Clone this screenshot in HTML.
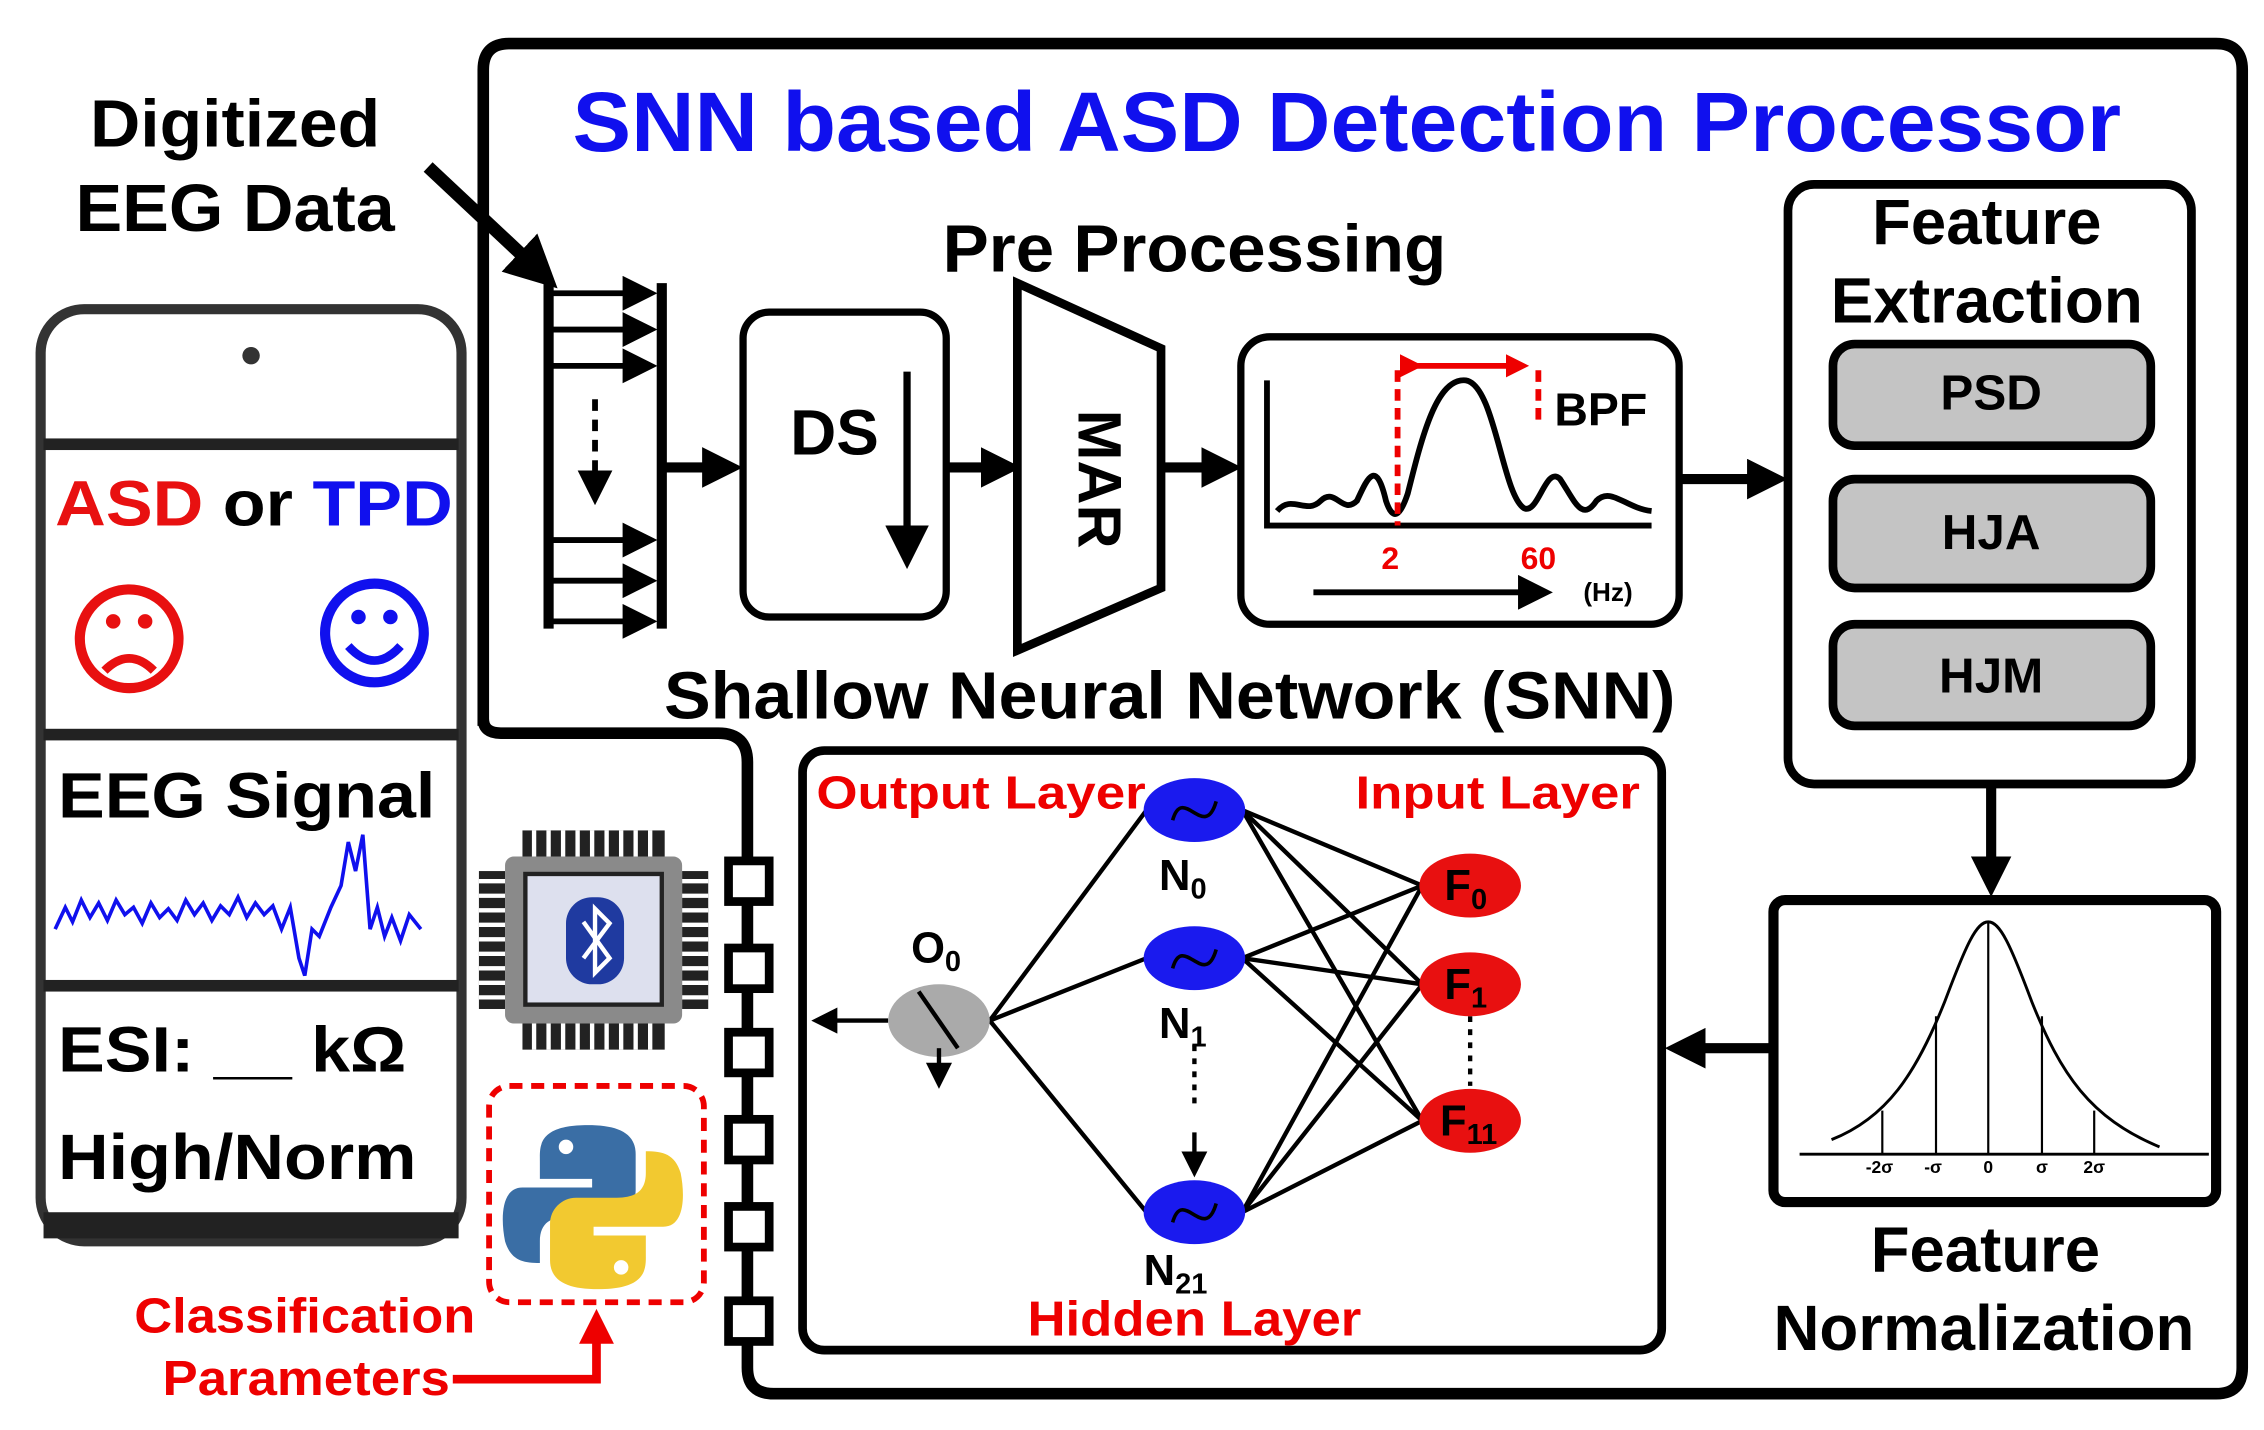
<!DOCTYPE html>
<html><head><meta charset="utf-8"><style>
html,body{margin:0;padding:0;background:#fff;}
svg{display:block;}
text{font-family:"Liberation Sans",Arial,sans-serif;font-weight:bold;}
</style></head><body>
<svg width="2264" height="1430" viewBox="0 0 1560 985" preserveAspectRatio="none" xmlns="http://www.w3.org/2000/svg">
<defs>
<marker id="ah" markerWidth="4" markerHeight="4" refX="2.6" refY="2" orient="auto" markerUnits="strokeWidth"><path d="M0,0 L4,2 L0,4 z" fill="#000"/></marker>
<marker id="ahs" markerWidth="6" markerHeight="6" refX="4" refY="3" orient="auto" markerUnits="strokeWidth"><path d="M0,0 L6,3 L0,6 z" fill="#000"/></marker>
<marker id="ahr" markerWidth="4" markerHeight="4" refX="2.6" refY="2" orient="auto" markerUnits="strokeWidth"><path d="M0,0 L4,2 L0,4 z" fill="#e00"/></marker>
</defs>
<path d="M333,500 L333,48 Q333,30 351,30 L1527,30 Q1545,30 1545,48 L1545,942 Q1545,960 1527,960 L533,960 Q515,960 515,942 L515,525 Q515,505 495,505 L345,505 Q333,505 333,495" fill="none" stroke="#000" stroke-width="8"/>
<text x="928" y="104" font-size="58" fill="#1010ee" text-anchor="middle" textLength="1067" lengthAdjust="spacingAndGlyphs">SNN based ASD Detection Processor</text>
<text x="162" y="101" font-size="46" text-anchor="middle" textLength="200" lengthAdjust="spacingAndGlyphs">Digitized</text>
<text x="162" y="159" font-size="46" text-anchor="middle" textLength="220" lengthAdjust="spacingAndGlyphs">EEG Data</text>
<line x1="295" y1="115" x2="375" y2="190" stroke="#000" stroke-width="9" marker-end="url(#ah)"/>
<line x1="378" y1="195" x2="378" y2="433" stroke="#000" stroke-width="7"/>
<line x1="456" y1="195" x2="456" y2="433" stroke="#000" stroke-width="7"/>
<g stroke="#000" stroke-width="4">
<line x1="378" y1="202" x2="445" y2="202" marker-end="url(#ahs)"/>
<line x1="378" y1="227" x2="445" y2="227" marker-end="url(#ahs)"/>
<line x1="378" y1="252" x2="445" y2="252" marker-end="url(#ahs)"/>
<line x1="378" y1="372" x2="445" y2="372" marker-end="url(#ahs)"/>
<line x1="378" y1="400" x2="445" y2="400" marker-end="url(#ahs)"/>
<line x1="378" y1="428" x2="445" y2="428" marker-end="url(#ahs)"/>
<line x1="410" y1="275" x2="410" y2="340" stroke-dasharray="8,6" marker-end="url(#ahs)"/>
</g>
<g stroke="#000" stroke-width="7">
<line x1="458" y1="322" x2="502" y2="322" marker-end="url(#ah)"/>
<line x1="654" y1="322" x2="694" y2="322" marker-end="url(#ah)"/>
<line x1="802" y1="322" x2="846" y2="322" marker-end="url(#ah)"/>
<line x1="1158" y1="330" x2="1222" y2="330" marker-end="url(#ah)"/>
<line x1="1372" y1="542" x2="1372" y2="608" marker-end="url(#ah)"/>
<line x1="1220" y1="722" x2="1157" y2="722" marker-end="url(#ah)"/>
</g>
<rect x="512" y="215" width="140" height="210" rx="18" fill="#fff" stroke="#000" stroke-width="5"/>
<text x="575" y="313" font-size="44" text-anchor="middle">DS</text>
<line x1="625" y1="256" x2="625" y2="382" stroke="#000" stroke-width="5" marker-end="url(#ahs)"/>
<polygon points="701,195 800,240 800,405 701,448" fill="#fff" stroke="#000" stroke-width="6"/>
<text x="0" y="0" font-size="42" text-anchor="middle" transform="translate(743,330) rotate(90)">MAR</text>
<text x="823" y="187" font-size="46" text-anchor="middle" textLength="347" lengthAdjust="spacingAndGlyphs">Pre Processing</text>
<rect x="855" y="232" width="302" height="198" rx="20" fill="#fff" stroke="#000" stroke-width="5"/>
<polyline points="873,262 873,362 1138,362" fill="none" stroke="#000" stroke-width="4"/>
<path d="M880,352 C890,340 900,355 910,345 C920,335 925,355 935,345 C942,330 948,315 955,345 C960,360 965,355 970,340 C980,300 990,260 1010,262 C1030,265 1035,340 1050,350 C1060,355 1065,320 1075,330 C1085,345 1090,360 1100,345 C1110,335 1120,350 1138,352" fill="none" stroke="#000" stroke-width="4"/>
<line x1="963" y1="255" x2="963" y2="362" stroke="#e00" stroke-width="4" stroke-dasharray="8,5"/>
<line x1="1060" y1="255" x2="1060" y2="290" stroke="#e00" stroke-width="4" stroke-dasharray="8,5"/>
<line x1="975" y1="252" x2="1048" y2="252" stroke="#e00" stroke-width="4" marker-start="url(#ahr)" marker-end="url(#ahr)"/>
<text x="1103" y="293" font-size="32" text-anchor="middle">BPF</text>
<text x="958" y="392" font-size="22" fill="#e00" text-anchor="middle">2</text>
<text x="1060" y="392" font-size="22" fill="#e00" text-anchor="middle">60</text>
<line x1="905" y1="408" x2="1062" y2="408" stroke="#000" stroke-width="4" marker-end="url(#ahs)"/>
<text x="1108" y="414" font-size="18" text-anchor="middle">(Hz)</text>
<rect x="1232" y="127" width="278" height="413" rx="18" fill="#fff" stroke="#000" stroke-width="6"/>
<text x="1369" y="168" font-size="44" text-anchor="middle" textLength="158" lengthAdjust="spacingAndGlyphs">Feature</text>
<text x="1369" y="222" font-size="44" text-anchor="middle" textLength="215" lengthAdjust="spacingAndGlyphs">Extraction</text>
<rect x="1263" y="237" width="219" height="70" rx="15" fill="#c4c4c4" stroke="#000" stroke-width="6"/>
<rect x="1263" y="330" width="219" height="75" rx="15" fill="#c4c4c4" stroke="#000" stroke-width="6"/>
<rect x="1263" y="430" width="219" height="70" rx="15" fill="#c4c4c4" stroke="#000" stroke-width="6"/>
<text x="1372" y="282" font-size="34" text-anchor="middle">PSD</text>
<text x="1372" y="378" font-size="34" text-anchor="middle">HJA</text>
<text x="1372" y="477" font-size="34" text-anchor="middle">HJM</text>
<rect x="1222" y="620" width="305" height="208" rx="8" fill="#fff" stroke="#000" stroke-width="7"/>
<line x1="1240" y1="795" x2="1522" y2="795" stroke="#000" stroke-width="2"/>
<path d="M1262,785 C1300,770 1320,740 1340,690 C1355,650 1362,635 1370,635 C1378,635 1385,650 1400,690 C1420,740 1440,770 1488,790" fill="none" stroke="#000" stroke-width="2"/>
<g stroke="#000" stroke-width="1.5"><line x1="1297" y1="765" x2="1297" y2="795"/><line x1="1334" y1="700" x2="1334" y2="795"/><line x1="1370" y1="635" x2="1370" y2="795"/><line x1="1407" y1="700" x2="1407" y2="795"/><line x1="1443" y1="765" x2="1443" y2="795"/></g>
<g font-size="12" font-weight="normal" text-anchor="middle"><text x="1295" y="808">-2σ</text><text x="1332" y="808">-σ</text><text x="1370" y="808">0</text><text x="1407" y="808">σ</text><text x="1443" y="808">2σ</text></g>
<text x="1368" y="876" font-size="44" text-anchor="middle" textLength="158" lengthAdjust="spacingAndGlyphs">Feature</text>
<text x="1367" y="930" font-size="44" text-anchor="middle" textLength="290" lengthAdjust="spacingAndGlyphs">Normalization</text>
<text x="806" y="495" font-size="46" text-anchor="middle" textLength="697" lengthAdjust="spacingAndGlyphs">Shallow Neural Network (SNN)</text>
<rect x="553" y="517" width="592" height="413" rx="15" fill="#fff" stroke="#000" stroke-width="6"/>
<text x="676" y="557" font-size="32" fill="#e00" text-anchor="middle" textLength="227" lengthAdjust="spacingAndGlyphs">Output Layer</text>
<text x="1032" y="557" font-size="32" fill="#e00" text-anchor="middle" textLength="196" lengthAdjust="spacingAndGlyphs">Input Layer</text>
<text x="823" y="920" font-size="34" fill="#e00" text-anchor="middle" textLength="230" lengthAdjust="spacingAndGlyphs">Hidden Layer</text>
<g stroke="#000" stroke-width="3">
<line x1="682" y1="703" x2="790" y2="558"/><line x1="682" y1="703" x2="790" y2="660"/><line x1="682" y1="703" x2="790" y2="835"/>
<line x1="856" y1="558" x2="980" y2="610"/><line x1="856" y1="558" x2="980" y2="678"/><line x1="856" y1="558" x2="980" y2="772"/>
<line x1="856" y1="660" x2="980" y2="610"/><line x1="856" y1="660" x2="980" y2="678"/><line x1="856" y1="660" x2="980" y2="772"/>
<line x1="856" y1="835" x2="980" y2="610"/><line x1="856" y1="835" x2="980" y2="678"/><line x1="856" y1="835" x2="980" y2="772"/>
<line x1="612" y1="703" x2="565" y2="703" marker-end="url(#ahs)"/>
<line x1="823" y1="720" x2="823" y2="760" stroke-dasharray="4,5"/>
<line x1="823" y1="780" x2="823" y2="805" marker-end="url(#ahs)"/>
<line x1="1013" y1="700" x2="1013" y2="748" stroke-dasharray="4,5"/>
</g>
<ellipse cx="647" cy="703" rx="35" ry="25" fill="#aaa"/>
<line x1="633" y1="683" x2="660" y2="722" stroke="#000" stroke-width="3"/>
<line x1="647" y1="722" x2="647" y2="744" stroke="#000" stroke-width="3" marker-end="url(#ahs)"/>
<text x="645" y="663" font-size="30" text-anchor="middle">O<tspan font-size="20" dy="6">0</tspan></text>
<g fill="#1a1aee"><ellipse cx="823" cy="558" rx="35" ry="22"/><ellipse cx="823" cy="660" rx="35" ry="22"/><ellipse cx="823" cy="835" rx="35" ry="22"/></g>
<g fill="none" stroke="#000" stroke-width="2.5"><path d="M808,565 C815,540 830,580 838,552"/><path d="M808,667 C815,642 830,682 838,654"/><path d="M808,842 C815,817 830,857 838,829"/></g>
<text x="815" y="613" font-size="30" text-anchor="middle">N<tspan font-size="20" dy="6">0</tspan></text>
<text x="815" y="715" font-size="30" text-anchor="middle">N<tspan font-size="20" dy="6">1</tspan></text>
<text x="810" y="885" font-size="30" text-anchor="middle">N<tspan font-size="20" dy="6">21</tspan></text>
<g fill="#e81010"><ellipse cx="1013" cy="610" rx="35" ry="22"/><ellipse cx="1013" cy="678" rx="35" ry="22"/><ellipse cx="1013" cy="772" rx="35" ry="22"/></g>
<text x="1010" y="620" font-size="30" text-anchor="middle">F<tspan font-size="20" dy="6">0</tspan></text>
<text x="1010" y="688" font-size="30" text-anchor="middle">F<tspan font-size="20" dy="6">1</tspan></text>
<text x="1012" y="782" font-size="30" text-anchor="middle">F<tspan font-size="20" dy="6">11</tspan></text>
<g fill="#fff" stroke="#000" stroke-width="6">
<rect x="502" y="593" width="28" height="28"/><rect x="502" y="653" width="28" height="28"/><rect x="502" y="711" width="28" height="28"/><rect x="502" y="771" width="28" height="28"/><rect x="502" y="831" width="28" height="28"/><rect x="502" y="896" width="28" height="28"/>
</g>
<g fill="#222"><rect x="360" y="572" width="98" height="18"/><rect x="360" y="705" width="98" height="18"/><rect x="330" y="600" width="18" height="95"/><rect x="470" y="600" width="18" height="95"/></g>
<g stroke="#fff" stroke-width="3"><path d="M368,572v18M378,572v18M388,572v18M398,572v18M408,572v18M418,572v18M428,572v18M438,572v18M448,572v18M368,705v18M378,705v18M388,705v18M398,705v18M408,705v18M418,705v18M428,705v18M438,705v18M448,705v18M330,607h18M330,617h18M330,627h18M330,637h18M330,647h18M330,657h18M330,667h18M330,677h18M330,687h18M470,607h18M470,617h18M470,627h18M470,637h18M470,647h18M470,657h18M470,667h18M470,677h18M470,687h18"/></g>
<rect x="348" y="590" width="122" height="115" rx="6" fill="#8a8a8a"/>
<rect x="362" y="602" width="94" height="90" fill="#dde0ee" stroke="#222" stroke-width="3"/>
<rect x="390" y="618" width="40" height="60" rx="18" fill="#1f3aa0"/>
<path d="M402,635 L420,660 L410,670 L410,626 L420,636 L402,660" fill="none" stroke="#fff" stroke-width="3"/>
<rect x="337" y="748" width="148" height="149" rx="14" fill="none" stroke="#e00" stroke-width="4" stroke-dasharray="9,6"/>
<path d="M405,775 C370,775 372,790 372,800 L372,812 L408,812 L408,818 L360,818 C345,818 345,840 348,855 C352,868 360,870 372,870 L372,855 C372,842 380,838 392,838 L420,838 C430,838 438,830 438,820 L438,795 C438,780 425,775 405,775 Z" fill="#3a6ea5"/>
<path d="M412,888 C447,888 445,873 445,863 L445,851 L409,851 L409,845 L457,845 C472,845 472,823 469,808 C465,795 457,793 445,793 L445,808 C445,821 437,825 425,825 L397,825 C387,825 379,833 379,843 L379,868 C379,883 392,888 412,888 Z" fill="#f2c930"/>
<circle cx="390" cy="790" r="5" fill="#fff"/><circle cx="428" cy="873" r="5" fill="#fff"/>
<text x="210" y="918" font-size="34" fill="#e00" text-anchor="middle" textLength="235" lengthAdjust="spacingAndGlyphs">Classification</text>
<text x="211" y="961" font-size="34" fill="#e00" text-anchor="middle" textLength="198" lengthAdjust="spacingAndGlyphs">Parameters</text>
<path d="M312,950 L411,950 L411,910" fill="none" stroke="#e00" stroke-width="6" marker-end="url(#ahr)"/>
<rect x="28" y="213" width="290" height="642" rx="30" fill="#fff" stroke="#333" stroke-width="7"/>
<rect x="34" y="226" width="278" height="78" rx="20" fill="#fff"/>
<circle cx="173" cy="245" r="6" fill="#333"/>
<g fill="#222"><rect x="30" y="302" width="286" height="8"/><rect x="30" y="502" width="286" height="8"/><rect x="30" y="675" width="286" height="8"/><rect x="30" y="835" width="286" height="18"/></g>
<text x="38" y="362" font-size="44" fill="#e81010" textLength="274" lengthAdjust="spacingAndGlyphs">ASD <tspan fill="#000">or</tspan> <tspan fill="#1010ee">TPD</tspan></text>
<circle cx="89" cy="440" r="34" fill="none" stroke="#e81010" stroke-width="7"/>
<circle cx="78" cy="428" r="5" fill="#e81010"/><circle cx="100" cy="428" r="5" fill="#e81010"/>
<path d="M72,462 Q89,445 106,462" fill="none" stroke="#e81010" stroke-width="6"/>
<circle cx="258" cy="436" r="34" fill="none" stroke="#1010ee" stroke-width="7"/>
<circle cx="247" cy="425" r="5" fill="#1010ee"/><circle cx="269" cy="425" r="5" fill="#1010ee"/>
<path d="M240,445 Q258,465 276,445" fill="none" stroke="#1010ee" stroke-width="6"/>
<text x="40" y="563" font-size="44" textLength="260" lengthAdjust="spacingAndGlyphs">EEG Signal</text>
<polyline points="38,640 45,625 50,635 56,620 62,632 68,622 74,634 80,620 86,630 92,625 98,636 104,622 110,632 116,626 122,634 128,620 134,630 140,622 146,634 152,624 158,630 164,618 170,632 176,622 182,630 188,624 194,640 200,625 206,660 210,672 215,640 220,645 228,625 235,610 240,580 245,600 250,575 255,640 260,625 265,645 270,632 276,648 282,630 290,640" fill="none" stroke="#1010ee" stroke-width="2.5"/>
<text x="40" y="738" font-size="44" textLength="240" lengthAdjust="spacingAndGlyphs">ESI: __ kΩ</text>
<text x="40" y="812" font-size="44" textLength="247" lengthAdjust="spacingAndGlyphs">High/Norm</text>
</svg>
</body></html>
